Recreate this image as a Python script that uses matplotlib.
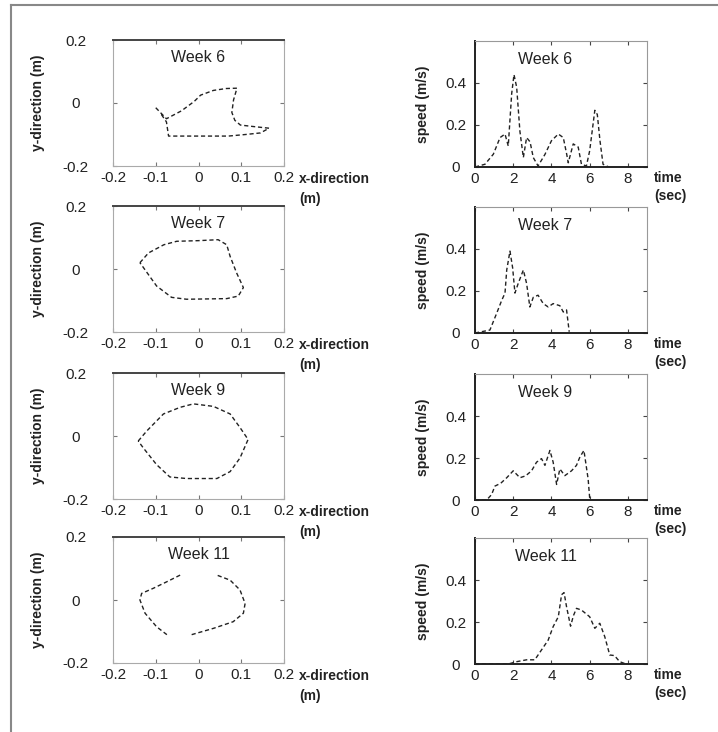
import matplotlib
matplotlib.use("Agg")
import matplotlib.pyplot as plt
import numpy as np
from matplotlib.lines import Line2D

plt.rcParams["font.family"] = ["Liberation Sans", "DejaVu Sans"]
plt.rcParams["axes.unicode_minus"] = False

weeks = ["Week 6", "Week 7", "Week 9", "Week 11"]

# hand trajectories, x / y in metres (nan = pen lifted)
week6_x = [-0.100, -0.075, -0.040, -0.010, 0.005, 0.035, 0.065, 0.090, 0.082, 0.078, 0.085,
           0.098, 0.130, 0.165, 0.145, 0.110, 0.070, 0.000, -0.070, -0.075, -0.090]
week6_y = [-0.015, -0.050, -0.025, 0.005, 0.025, 0.040, 0.046, 0.047, 0.010, -0.030, -0.055,
           -0.070, -0.075, -0.080, -0.095, -0.100, -0.105, -0.105, -0.105, -0.060, -0.030]
week7_x = [-0.137, -0.117, -0.081, -0.051, 0.000, 0.046, 0.066, 0.074, 0.089, 0.105, 0.093,
           0.066, 0.020, -0.028, -0.063, -0.098, -0.137]
week7_y = [0.020, 0.051, 0.077, 0.088, 0.090, 0.093, 0.077, 0.040, -0.012, -0.059, -0.086,
           -0.094, -0.095, -0.096, -0.090, -0.054, 0.020]
week9_x = [-0.141, -0.121, -0.082, -0.043, -0.012, 0.035, 0.074, 0.097, 0.116, 0.097, 0.074,
           0.043, -0.028, -0.067, -0.098, -0.129, -0.141]
week9_y = [-0.016, 0.016, 0.070, 0.091, 0.102, 0.094, 0.070, 0.027, -0.011, -0.070, -0.113,
           -0.135, -0.135, -0.130, -0.091, -0.038, -0.016]
week11_x = [-0.043, -0.074, -0.106, -0.133, -0.137, -0.125, -0.098, -0.074, np.nan,
            -0.016, 0.035, 0.081, 0.105, 0.109, 0.097, 0.074, 0.043]
week11_y = [0.079, 0.058, 0.037, 0.021, 0.000, -0.042, -0.085, -0.110, np.nan,
            -0.110, -0.090, -0.069, -0.042, -0.011, 0.032, 0.063, 0.079]

# hand speed over time, t in sec / v in m/s
week6_t = [0.0, 0.52, 0.96, 1.31, 1.57, 1.74, 1.92, 2.04, 2.18, 2.35, 2.53, 2.70, 2.88, 3.05,
           3.30, 3.66, 4.00, 4.36, 4.62, 4.80, 4.88, 5.14, 5.40, 5.57, 5.83, 6.00, 6.27, 6.40,
           6.54, 6.70, 7.00]
week6_v = [0.0, 0.013, 0.061, 0.140, 0.157, 0.100, 0.350, 0.440, 0.380, 0.170, 0.045, 0.140,
           0.120, 0.045, 0.005, 0.060, 0.125, 0.157, 0.140, 0.060, 0.020, 0.110, 0.095, 0.013,
           0.005, 0.077, 0.270, 0.250, 0.125, 0.013, 0.0]
week7_t = [0.0, 0.78, 1.13, 1.40, 1.57, 1.66, 1.83, 1.97, 2.09, 2.26, 2.53, 2.70, 2.87, 3.05,
           3.30, 3.57, 3.83, 4.09, 4.44, 4.62, 4.79, 4.93]
week7_v = [0.0, 0.014, 0.093, 0.156, 0.190, 0.300, 0.390, 0.310, 0.190, 0.236, 0.300, 0.236,
           0.124, 0.170, 0.180, 0.140, 0.124, 0.140, 0.130, 0.100, 0.110, 0.006]
week9_t = [0.0, 0.61, 0.87, 1.04, 1.35, 1.66, 2.00, 2.35, 2.65, 2.96, 3.22, 3.48, 3.66, 3.92,
           4.09, 4.27, 4.44, 4.70, 5.05, 5.31, 5.49, 5.70, 5.92, 6.00, 6.10]
week9_v = [0.0, 0.0, 0.026, 0.066, 0.080, 0.106, 0.139, 0.106, 0.115, 0.139, 0.180, 0.197,
           0.165, 0.236, 0.180, 0.074, 0.148, 0.116, 0.139, 0.165, 0.205, 0.236, 0.100, 0.010, 0.0]
week11_t = [0.0, 1.74, 2.18, 2.70, 3.13, 3.48, 3.83, 4.09, 4.36, 4.53, 4.66, 4.79, 5.00, 5.15,
            5.31, 5.57, 6.00, 6.27, 6.53, 6.79, 7.05, 7.30, 7.57, 7.90]
week11_v = [0.0, 0.0, 0.011, 0.020, 0.020, 0.067, 0.114, 0.178, 0.225, 0.330, 0.340, 0.273,
            0.180, 0.230, 0.265, 0.257, 0.225, 0.170, 0.194, 0.130, 0.043, 0.040, 0.011, 0.0]

pos_x = [week6_x, week7_x, week9_x, week11_x]
pos_y = [week6_y, week7_y, week9_y, week11_y]
speed_t = [week6_t, week7_t, week9_t, week11_t]
speed_v = [week6_v, week7_v, week9_v, week11_v]

W, H = 718, 732
fig = plt.figure(figsize=(W / 100, H / 100), dpi=100)


def px_rect(left, top, w, h):
    return [left / W, 1 - (top + h) / H, w / W, h / H]


# scanned page frame
fig.add_artist(Line2D([11 / W, 11 / W], [0, 1 - 5 / H], color="#888", lw=1.5))
fig.add_artist(Line2D([11 / W, 1], [1 - 5 / H, 1 - 5 / H], color="#888", lw=1.5))

row_tops = [40, 206, 373, 537]
dash = (0, (3, 2))
ink = "#222"

for i, week in enumerate(weeks):
    # trajectory panel
    ax = fig.add_axes(px_rect(113, row_tops[i], 171, 126))
    ax.plot(pos_x[i], pos_y[i], color=ink, lw=1.0, linestyle=dash)
    ax.set_xlim(-0.2, 0.2)
    ax.set_ylim(-0.2, 0.2)
    ax.set_xticks([-0.2, -0.1, 0, 0.1, 0.2])
    ax.set_xticklabels(["-0.2", "-0.1", "0", "0.1", "0.2"])
    ax.set_yticks([-0.2, 0, 0.2])
    ax.set_yticklabels(["-0.2", "0", "0.2"])
    ax.tick_params(direction="in", length=3, top=True, right=True, labelsize=11,
                   labelcolor=ink, color="#777")
    ax.tick_params(axis="y", pad=27)
    for lab in ax.get_yticklabels():
        lab.set_horizontalalignment("center")
    for side in ["left", "right", "bottom"]:
        ax.spines[side].set_color("#aaa")
        ax.spines[side].set_linewidth(0.8)
    ax.spines["top"].set_color("#444")
    ax.spines["top"].set_linewidth(1.4)
    ax.text(0.5, 0.86, week, transform=ax.transAxes, ha="center", va="center",
            fontsize=11.5, color=ink)
    ax.set_ylabel("y-direction (m)", fontsize=10, fontweight="bold", color=ink)
    ax.yaxis.set_label_coords(-0.40, 0.5)
    ax.text(1.09, -0.05, "x-direction\n(m)", transform=ax.transAxes, ha="left", va="top",
            fontsize=10, fontweight="bold", color=ink, linespacing=1.5)

    # speed panel
    ax2 = fig.add_axes(px_rect(475, row_tops[i] + 1, 172, 126))
    ax2.plot(speed_t[i], speed_v[i], color=ink, lw=1.0, linestyle=dash)
    ax2.set_xlim(0, 9)
    ax2.set_ylim(0, 0.6)
    ax2.set_xticks([0, 2, 4, 6, 8])
    ax2.set_yticks([0, 0.2, 0.4])
    ax2.set_yticklabels(["0", "0.2", "0.4"])
    ax2.tick_params(direction="in", length=3, top=True, right=True, labelsize=11,
                    labelcolor=ink, color="#444")
    ax2.tick_params(axis="y", pad=14)
    for lab in ax2.get_yticklabels():
        lab.set_horizontalalignment("center")
    for side in ["left", "bottom"]:
        ax2.spines[side].set_color("#222")
        ax2.spines[side].set_linewidth(1.4)
    for side in ["top", "right"]:
        ax2.spines[side].set_color("#999")
        ax2.spines[side].set_linewidth(0.8)
    ax2.text(0.41, 0.85, week, transform=ax2.transAxes, ha="center", va="center",
             fontsize=11.5, color=ink)
    ax2.set_ylabel("speed (m/s)", fontsize=10, fontweight="bold", color=ink)
    ax2.yaxis.set_label_coords(-0.26, 0.5)
    ax2.text(1.04, -0.03, "time\n(sec)", transform=ax2.transAxes, ha="left", va="top",
             fontsize=10, fontweight="bold", color=ink, linespacing=1.4)

fig.savefig("out.png", dpi=100)
